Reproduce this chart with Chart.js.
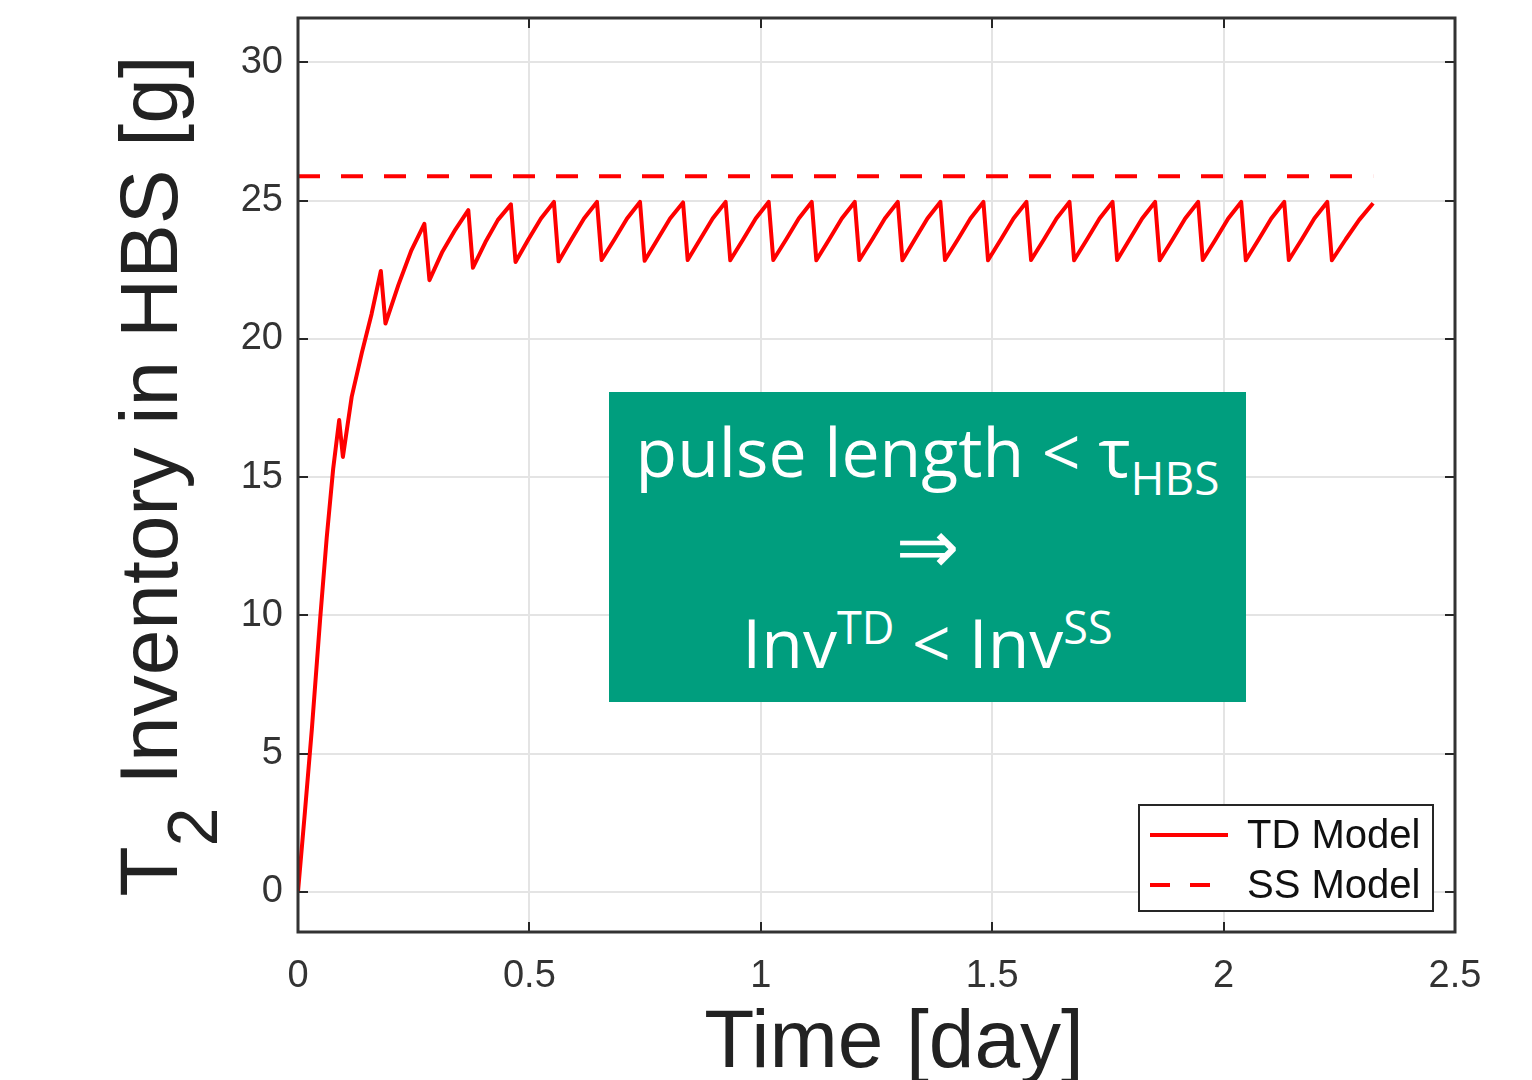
<!DOCTYPE html>
<html>
<head>
<meta charset="utf-8">
<script src="https://cdn.jsdelivr.net/npm/chart.js@4.4.0/dist/chart.umd.min.js"></script>
<style>
	html, body { margin: 0; padding: 0; background: #fff; }
	#wrap { position: relative; width: 1532px; height: 1080px; overflow: hidden; }
	#chart { position: absolute; left: 0; top: 0; }
	#note { position: absolute; left: 609px; top: 392px; width: 637px; height: 310px; background: #009e7e; color: #fff; font-family: "Open Sans", sans-serif; }
	#note div { position: absolute; left: 0; width: 100%; text-align: center; white-space: nowrap; font-size: 68px; line-height: 68px; }
	#note .arrow { font-family: "DejaVu Sans", sans-serif; font-size: 76px; line-height: 76px; }
	#note .sub { font-size: 46px; position: relative; top: 18px; }
	#note .sup { font-size: 45px; position: relative; top: -24px; }
</style>
</head>
<body>
<div id="wrap">
	<canvas id="chart" width="1532" height="1080"></canvas>
	<div id="note">
		<div style="top:25px">pulse length &lt; τ<span class="sub">HBS</span></div>
		<div class="arrow" style="top:117px">⇒</div>
		<div style="top:216px">Inv<span class="sup">TD</span> &lt; Inv<span class="sup">SS</span></div>
	</div>
</div>
<script>
// Time axis [day] and TD model inventory [g]
// each pulse: trough, two points on the rise, peak
const timeDays = [
	0, 0.015, 0.030, 0.048, 0.062, 0.076, 0.089,
	0.097, 0.116, 0.138, 0.159, 0.179,
	0.189, 0.217, 0.245, 0.273,
	0.284, 0.312, 0.340, 0.368,
	0.378, 0.405, 0.432, 0.460,
	0.470, 0.498, 0.525, 0.553,
	0.563, 0.591, 0.618, 0.646,
	0.656, 0.684, 0.711, 0.739,
	0.749, 0.777, 0.804, 0.832,
	0.842, 0.869, 0.896, 0.924,
	0.934, 0.962, 0.989, 1.017,
	1.027, 1.055, 1.082, 1.110,
	1.120, 1.148, 1.175, 1.203,
	1.213, 1.241, 1.268, 1.296,
	1.306, 1.333, 1.360, 1.388,
	1.398, 1.426, 1.453, 1.481,
	1.491, 1.519, 1.546, 1.574,
	1.584, 1.612, 1.639, 1.667,
	1.677, 1.705, 1.732, 1.760,
	1.770, 1.797, 1.824, 1.852,
	1.862, 1.890, 1.917, 1.945,
	1.955, 1.983, 2.010, 2.038,
	2.048, 2.076, 2.103, 2.131,
	2.141, 2.169, 2.196, 2.224,
	2.234, 2.264, 2.293, 2.323
];
const tdInventory = [
	0, 2.9, 5.9, 9.9, 12.8, 15.3, 17.06,
	15.73, 17.9, 19.5, 20.9, 22.45,
	20.55, 21.95, 23.2, 24.16,
	22.12, 23.15, 23.95, 24.65,
	22.57, 23.5, 24.3, 24.86,
	22.78, 23.6, 24.35, 24.95,
	22.80, 23.6, 24.35, 24.95,
	22.85, 23.6, 24.35, 24.95,
	22.82, 23.6, 24.35, 24.93,
	22.85, 23.6, 24.35, 24.95,
	22.84, 23.6, 24.35, 24.95,
	22.85, 23.6, 24.35, 24.95,
	22.84, 23.6, 24.35, 24.95,
	22.85, 23.6, 24.35, 24.95,
	22.84, 23.6, 24.35, 24.95,
	22.85, 23.6, 24.35, 24.95,
	22.84, 23.6, 24.35, 24.95,
	22.85, 23.6, 24.35, 24.95,
	22.84, 23.6, 24.35, 24.95,
	22.85, 23.6, 24.35, 24.95,
	22.84, 23.6, 24.35, 24.95,
	22.85, 23.6, 24.35, 24.95,
	22.84, 23.6, 24.35, 24.95,
	22.85, 23.6, 24.35, 24.95,
	22.84, 23.6, 24.3, 24.9
];
// steady state model level
const ssTime = [0, 2.323];
const ssInventory = [25.88, 25.88];

const seriesLabels = ['TD Model', 'SS Model'];
const xTicks = [0, 0.5, 1, 1.5, 2, 2.5];
const yTicks = [0, 5, 10, 15, 20, 25, 30];

const axisFont = 'Liberation Sans, Arial, sans-serif';

// frame and inward ticks like a matlab box
const boxFrame = {
	id: 'boxFrame',
	afterDatasetsDraw(chart) {
		const { ctx, chartArea: a, scales } = chart;
		ctx.save();
		ctx.strokeStyle = '#262626';
		ctx.lineWidth = 2;
		ctx.beginPath();
		xTicks.forEach(v => {
			const px = Math.round(scales.x.getPixelForValue(v));
			ctx.moveTo(px, a.bottom); ctx.lineTo(px, a.bottom - 10);
			ctx.moveTo(px, a.top); ctx.lineTo(px, a.top + 10);
		});
		yTicks.forEach(v => {
			const py = Math.round(scales.y.getPixelForValue(v));
			ctx.moveTo(a.left, py); ctx.lineTo(a.left + 10, py);
			ctx.moveTo(a.right, py); ctx.lineTo(a.right - 10, py);
		});
		ctx.stroke();
		ctx.strokeStyle = '#333';
		ctx.lineWidth = 3;
		ctx.strokeRect(a.left, a.top, a.right - a.left, a.bottom - a.top);
		ctx.restore();
	}
};

// legend box inside the lower right corner
const boxLegend = {
	id: 'boxLegend',
	afterDraw(chart) {
		const { ctx, chartArea: a } = chart;
		const x0 = a.right - 316, y0 = a.bottom - 127, w = 294, h = 106;
		ctx.save();
		ctx.fillStyle = '#fff';
		ctx.fillRect(x0, y0, w, h);
		ctx.strokeStyle = '#262626';
		ctx.lineWidth = 2;
		ctx.strokeRect(x0, y0, w, h);
		chart.data.datasets.forEach((ds, i) => {
			const y = y0 + 30 + i * 50;
			ctx.strokeStyle = ds.borderColor;
			ctx.lineWidth = ds.borderWidth;
			ctx.setLineDash(ds.borderDash ? [20, 20] : []);
			ctx.beginPath();
			ctx.moveTo(x0 + 11, y);
			ctx.lineTo(x0 + 89, y);
			ctx.stroke();
			ctx.setLineDash([]);
			ctx.fillStyle = '#111';
			ctx.font = '40px ' + axisFont;
			ctx.textBaseline = 'middle';
			ctx.textAlign = 'left';
			ctx.fillText(ds.label, x0 + 108, y + 2);
		});
		ctx.restore();
	}
};

// axis titles (y title has a subscript)
const axisTitles = {
	id: 'axisTitles',
	afterDraw(chart) {
		const { ctx } = chart;
		ctx.save();
		ctx.fillStyle = '#222';
		ctx.textBaseline = 'alphabetic';
		ctx.textAlign = 'center';
		ctx.font = '82px ' + axisFont;
		ctx.fillText('Time [day]', 894, 1067);

		const big = '82px ' + axisFont, small = '70px ' + axisFont;
		ctx.font = big;
		const w1 = ctx.measureText('T').width;
		const w3 = ctx.measureText(' Inventory in HBS [g]').width;
		ctx.font = small;
		const w2 = ctx.measureText('2').width;
		const total = w1 + w2 + w3;
		ctx.translate(177, 476);
		ctx.rotate(-Math.PI / 2);
		ctx.textAlign = 'left';
		let x = -total / 2;
		ctx.font = big;
		ctx.fillText('T', x, 0);
		x += w1;
		ctx.font = small;
		ctx.fillText('2', x, 40);
		x += w2;
		ctx.font = big;
		ctx.fillText(' Inventory in HBS [g]', x, 0);
		ctx.restore();
	}
};

function noEdgePadding(s) {
	s.paddingTop = 0;
	s.paddingBottom = 0;
	s.paddingLeft = 0;
	s.paddingRight = 0;
}

new Chart(document.getElementById('chart').getContext('2d'), {
	type: 'line',
	data: {
		datasets: [
			{
				label: seriesLabels[0],
				data: timeDays.map((t, i) => ({ x: t, y: tdInventory[i] })),
				borderColor: '#ff0000',
				borderWidth: 4,
				borderJoinStyle: 'round',
				pointRadius: 0,
				tension: 0,
				fill: false
			},
			{
				label: seriesLabels[1],
				data: ssTime.map((t, i) => ({ x: t, y: ssInventory[i] })),
				borderColor: '#ff0000',
				borderWidth: 4,
				borderDash: [22, 21],
				pointRadius: 0,
				fill: false
			}
		]
	},
	options: {
		responsive: false,
		animation: false,
		layout: { padding: { left: 0, right: 77, top: 18, bottom: 0 } },
		plugins: {
			legend: { display: false },
			tooltip: { enabled: false }
		},
		scales: {
			x: {
				type: 'linear',
				min: 0,
				max: 2.5,
				afterFit(s) { s.height = 148; noEdgePadding(s); },
				afterBuildTicks(s) { s.ticks = xTicks.map(v => ({ value: v })); },
				grid: { color: '#e4e4e4', lineWidth: 2, drawTicks: false },
				border: { display: false },
				ticks: {
					padding: 22,
					color: '#333',
					font: { family: axisFont, size: 38 },
					maxRotation: 0,
					callback: v => String(v)
				}
			},
			y: {
				type: 'linear',
				min: -1.45,
				max: 31.6,
				afterFit(s) { s.width = 298; noEdgePadding(s); },
				afterBuildTicks(s) { s.ticks = yTicks.map(v => ({ value: v })); },
				grid: { color: '#e4e4e4', lineWidth: 2, drawTicks: false },
				border: { display: false },
				ticks: {
					padding: 15,
					color: '#333',
					font: { family: axisFont, size: 38 },
					callback: v => String(v)
				}
			}
		}
	},
	plugins: [boxFrame, boxLegend, axisTitles]
});
</script>
</body>
</html>
